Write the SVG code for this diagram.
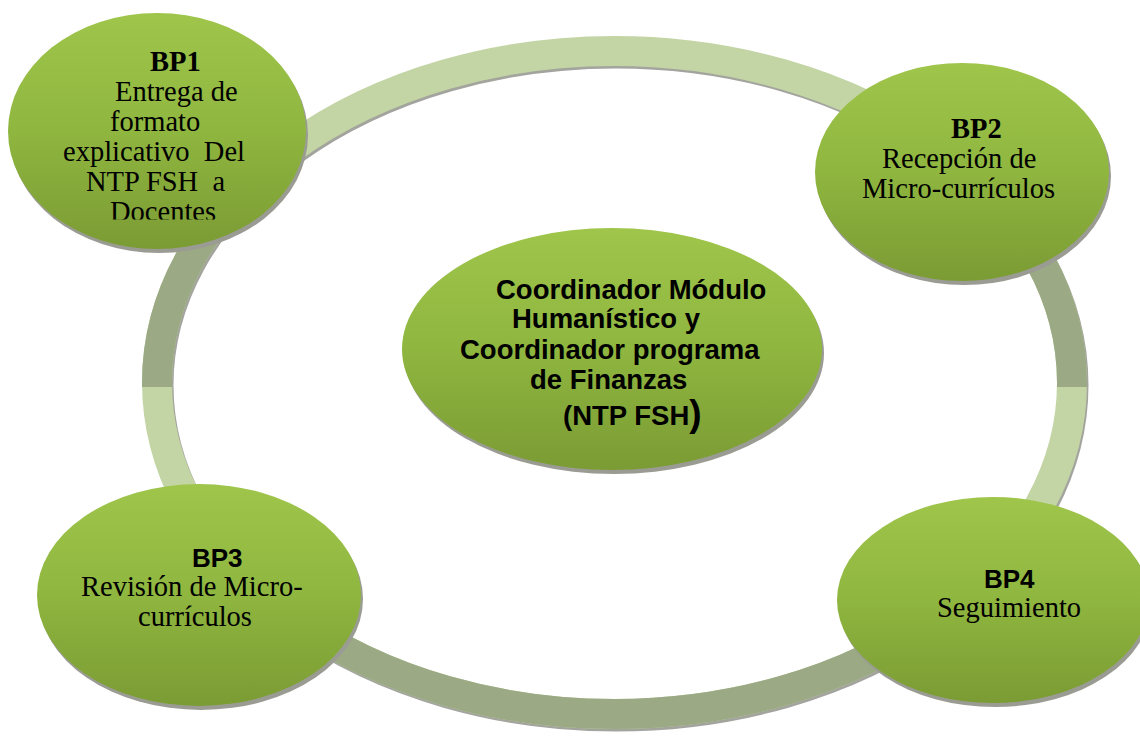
<svg xmlns="http://www.w3.org/2000/svg" width="1140" height="736" viewBox="0 0 1140 736">
<style>
.serif{font-family:"Liberation Serif","Times New Roman",serif;font-size:28.5px;fill:#000;white-space:pre}
.sans{font-family:"Liberation Sans",Arial,sans-serif;font-weight:bold;fill:#000;white-space:pre}
.bold{font-weight:bold}
.node{fill:url(#nodeGrad)}
.shadow{fill:#9a9c94}
</style>
<defs>
<linearGradient id="nodeGrad" x1="0" y1="0" x2="0" y2="1">
<stop offset="0" stop-color="#9fc54b"/>
<stop offset="0.5" stop-color="#8fb63f"/>
<stop offset="1" stop-color="#7b9b34"/>
</linearGradient>
<clipPath id="darkClip">
<rect x="100" y="200" width="250" height="187"/>
<rect x="860" y="200" width="280" height="187"/>
<rect x="200" y="560" width="760" height="200"/>
</clipPath>
<clipPath id="bp1Clip">
<rect x="0" y="0" width="320" height="219.5"/>
</clipPath>
</defs>
<rect width="1140" height="736" fill="#fff"/>
<g id="connectors">
<ellipse cx="616" cy="385" rx="457.5" ry="331.5" fill="none" stroke="#a3a49e" stroke-width="30"/>
<ellipse cx="614.5" cy="382.5" rx="457.5" ry="331.5" fill="none" stroke="#c3d5a4" stroke-width="30"/>
<ellipse cx="614.5" cy="382.5" rx="457.5" ry="331.5" fill="none" stroke="#9ba985" stroke-width="30" clip-path="url(#darkClip)"/>
</g>
<g id="center">
<ellipse class="shadow" cx="614" cy="353" rx="210" ry="121"/>
<ellipse class="node" cx="612" cy="349" rx="210" ry="121"/>
<text class="sans" font-size="27.5" x="496" y="299">Coordinador Módulo</text>
<text class="sans" font-size="27.5" x="512" y="328">Humanístico y</text>
<text class="sans" font-size="27.5" x="460" y="359">Coordinador programa</text>
<text class="sans" font-size="27.5" x="530" y="389">de Finanzas</text>
<text class="sans" font-size="27.5" x="563" y="425">(NTP FSH<tspan font-size="37" dy="1">)</tspan></text>
</g>
<g id="bp1">
<ellipse class="shadow" cx="159" cy="135" rx="149" ry="118"/>
<ellipse class="node" cx="157" cy="131" rx="149" ry="118"/>
<g clip-path="url(#bp1Clip)">
<text class="serif bold" x="150" y="71">BP1</text>
<text class="serif" x="115" y="101">Entrega de</text>
<text class="serif" x="110" y="131">formato</text>
<text class="serif" x="63" y="161">explicativo  Del</text>
<text class="serif" x="86" y="191">NTP FSH  a</text>
<text class="serif" x="110" y="221">Docentes</text>
</g>
</g>
<g id="bp2">
<ellipse class="shadow" cx="964" cy="176" rx="147" ry="109"/>
<ellipse class="node" cx="962" cy="172" rx="147" ry="109"/>
<text class="serif bold" x="951" y="138">BP2</text>
<text class="serif" x="882" y="168">Recepción de</text>
<text class="serif" x="862" y="198">Micro-currículos</text>
</g>
<g id="bp3">
<ellipse class="shadow" cx="201" cy="599" rx="162" ry="111"/>
<ellipse class="node" cx="199" cy="595" rx="162" ry="111"/>
<text class="sans" font-size="26" x="192" y="567">BP3</text>
<text class="serif" x="81" y="596">Revisión de Micro-</text>
<text class="serif" x="138" y="626">currículos</text>
</g>
<g id="bp4">
<ellipse class="shadow" cx="995" cy="604" rx="156" ry="103"/>
<ellipse class="node" cx="993" cy="600" rx="156" ry="103"/>
<text class="sans" font-size="26" x="984" y="588">BP4</text>
<text class="serif" x="937" y="617">Seguimiento</text>
</g>
</svg>
